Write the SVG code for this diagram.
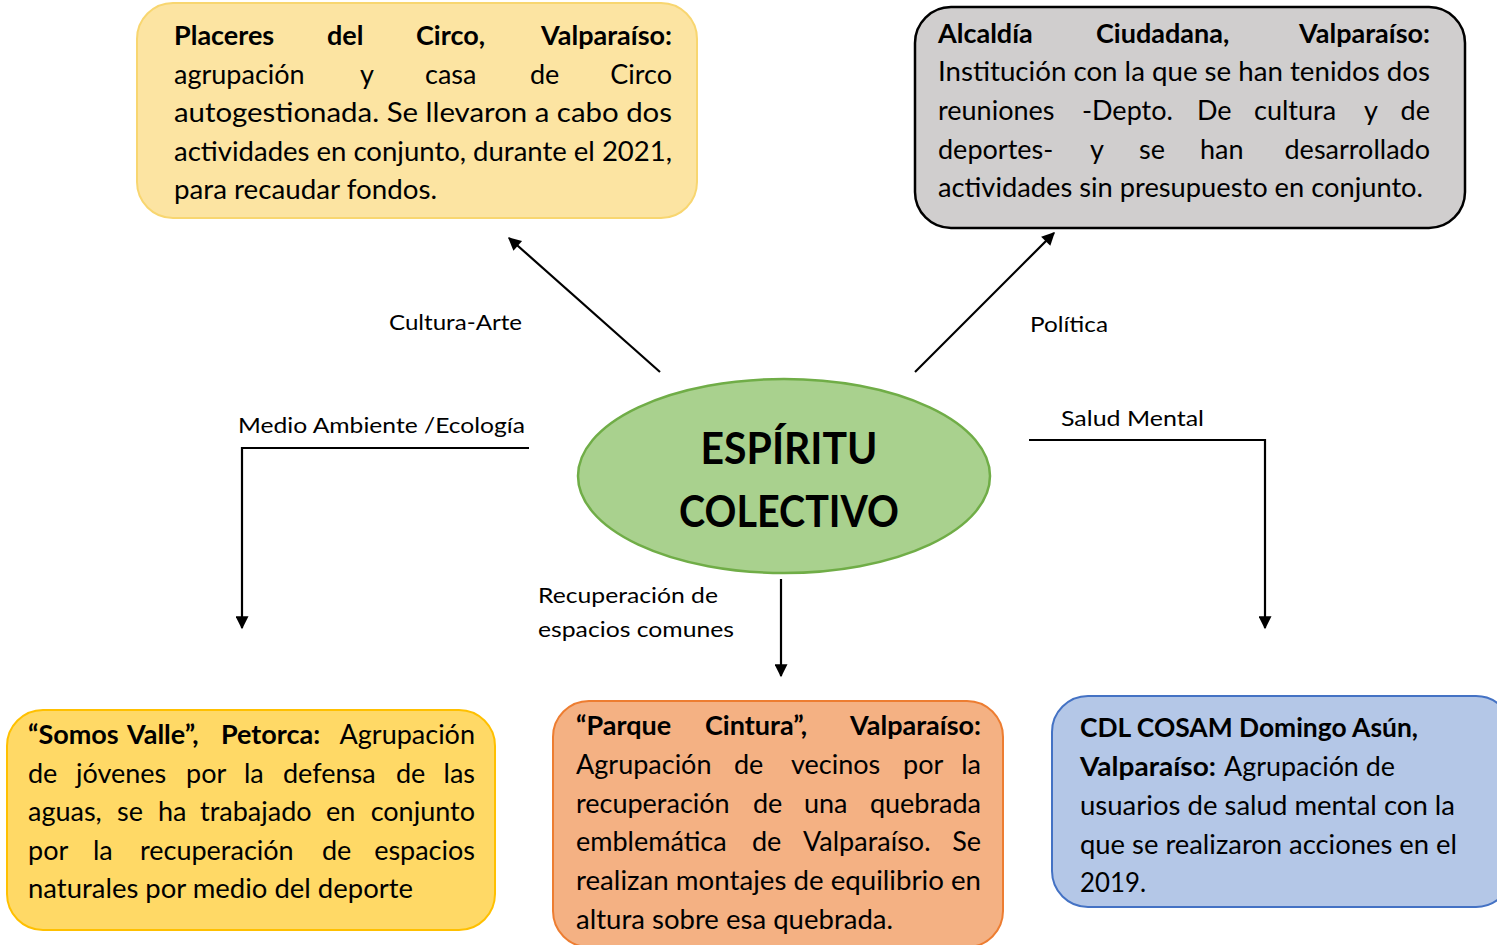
<svg xmlns="http://www.w3.org/2000/svg" width="1497" height="945" viewBox="0 0 1497 945">
<style>
text{font-family:Lato,"Noto Sans",sans-serif;fill:#000}
.b{font-size:27px}
.bb{font-size:27px;font-weight:bold}
.e{text-anchor:end}
.lbl{font-size:22px}
.ttl{font-size:44px;font-weight:bold;text-anchor:middle}
.con{fill:none;stroke:#000;stroke-width:2.2}
</style>
<defs>
<marker id="ah" viewBox="0 0 10 10" refX="9" refY="5" markerWidth="15" markerHeight="13" markerUnits="userSpaceOnUse" orient="auto">
<path d="M0,0 L10,5 L0,10 Z" fill="#000"/>
</marker>
</defs>
<g id="connectors">
<line class="con" x1="660" y1="372" x2="509" y2="238" marker-end="url(#ah)"/>
<line class="con" x1="915" y1="372" x2="1054" y2="233" marker-end="url(#ah)"/>
<polyline class="con" points="529,448 242,448 242,628" marker-end="url(#ah)"/>
<polyline class="con" points="1029,440 1265,440 1265,628" marker-end="url(#ah)"/>
<line class="con" x1="781" y1="579" x2="781" y2="676" marker-end="url(#ah)"/>
<text class="lbl" x="389" y="330" textLength="133" lengthAdjust="spacingAndGlyphs">Cultura-Arte</text>
<text class="lbl" x="1030" y="332" textLength="78" lengthAdjust="spacingAndGlyphs">Política</text>
<text class="lbl" x="238" y="433" textLength="287" lengthAdjust="spacingAndGlyphs">Medio Ambiente /Ecología</text>
<text class="lbl" x="1061" y="426" textLength="143" lengthAdjust="spacingAndGlyphs">Salud Mental</text>
<text class="lbl" x="538" y="603" textLength="180" lengthAdjust="spacingAndGlyphs">Recuperación de</text>
<text class="lbl" x="538" y="637" textLength="196" lengthAdjust="spacingAndGlyphs">espacios comunes</text>
</g>
<g id="center">
<ellipse cx="784" cy="476" rx="206" ry="97" fill="#A9D18E" stroke="#70AD47" stroke-width="2.5"/>
<text class="ttl" x="789" y="464" textLength="177" lengthAdjust="spacingAndGlyphs">ESPÍRITU</text>
<text class="ttl" x="789" y="527" textLength="220" lengthAdjust="spacingAndGlyphs">COLECTIVO</text>
</g>
<g id="placeres">
<rect x="137" y="3" width="560" height="215" rx="36" fill="#FCE4A2" stroke="#F8D670" stroke-width="2"/>
<text class="bb" y="45"><tspan x="174">Placeres</tspan><tspan x="327">del</tspan><tspan x="416">Circo,</tspan></text>
<text class="bb e" x="672" y="45">Valparaíso:</text>
<text class="b" y="84"><tspan x="174">agrupación</tspan><tspan x="360">y</tspan><tspan x="425">casa</tspan><tspan x="530">de</tspan></text>
<text class="b e" x="672" y="84">Circo</text>
<text class="b" x="174" y="122" textLength="498" lengthAdjust="spacingAndGlyphs">autogestionada. Se llevaron a cabo dos</text>
<text class="b" x="174" y="161" textLength="498" lengthAdjust="spacingAndGlyphs">actividades en conjunto, durante el 2021,</text>
<text class="b" x="174" y="199" textLength="263" lengthAdjust="spacingAndGlyphs">para recaudar fondos.</text>
</g>
<g id="alcaldia">
<rect x="915" y="7" width="550" height="221" rx="36" fill="#D0CECE" stroke="#000" stroke-width="2.5"/>
<text class="bb" y="43"><tspan x="938">Alcaldía</tspan><tspan x="1096">Ciudadana,</tspan></text>
<text class="bb e" x="1430" y="43">Valparaíso:</text>
<text class="b" x="938" y="81" textLength="492" lengthAdjust="spacingAndGlyphs">Institución con la que se han tenidos dos</text>
<text class="b" y="120"><tspan x="938">reuniones</tspan><tspan x="1082">-Depto.</tspan><tspan x="1197">De</tspan><tspan x="1254">cultura</tspan><tspan x="1364">y</tspan></text>
<text class="b e" x="1430" y="120">de</text>
<text class="b" y="159"><tspan x="938">deportes-</tspan><tspan x="1090">y</tspan><tspan x="1139">se</tspan><tspan x="1200">han</tspan></text>
<text class="b e" x="1430" y="159">desarrollado</text>
<text class="b" x="938" y="197" textLength="485" lengthAdjust="spacingAndGlyphs">actividades sin presupuesto en conjunto.</text>
</g>
<g id="somos-valle">
<rect x="7" y="710" width="488" height="220" rx="36" fill="#FFD966" stroke="#FFC000" stroke-width="2"/>
<text class="bb" x="28" y="744">“Somos</text>
<text class="bb" x="127" y="744">Valle”,</text>
<text class="bb" x="221" y="744">Petorca:</text>
<text class="b e" x="475" y="744">Agrupación</text>
<text class="b" y="783"><tspan x="28">de</tspan><tspan x="76">jóvenes</tspan><tspan x="186">por</tspan><tspan x="244">la</tspan><tspan x="283">defensa</tspan><tspan x="396">de</tspan></text>
<text class="b e" x="475" y="783">las</text>
<text class="b" y="821"><tspan x="28">aguas,</tspan><tspan x="117">se</tspan><tspan x="158">ha</tspan><tspan x="200">trabajado</tspan><tspan x="326">en</tspan></text>
<text class="b e" x="475" y="821">conjunto</text>
<text class="b" y="860"><tspan x="28">por</tspan><tspan x="93">la</tspan><tspan x="140">recuperación</tspan><tspan x="322">de</tspan></text>
<text class="b e" x="475" y="860">espacios</text>
<text class="b" x="28" y="898" textLength="385" lengthAdjust="spacingAndGlyphs">naturales por medio del deporte</text>
</g>
<g id="parque-cintura">
<rect x="553" y="701" width="450" height="246" rx="36" fill="#F4B183" stroke="#ED7D31" stroke-width="2"/>
<text class="bb" x="576" y="735">“Parque</text>
<text class="bb" x="705" y="735">Cintura”,</text>
<text class="bb e" x="981" y="735">Valparaíso:</text>
<text class="b" y="774"><tspan x="576">Agrupación</tspan><tspan x="734">de</tspan><tspan x="791">vecinos</tspan><tspan x="903">por</tspan></text>
<text class="b e" x="981" y="774">la</text>
<text class="b" y="813"><tspan x="576">recuperación</tspan><tspan x="753">de</tspan><tspan x="804">una</tspan></text>
<text class="b e" x="981" y="813">quebrada</text>
<text class="b" y="851"><tspan x="576">emblemática</tspan><tspan x="752">de</tspan><tspan x="803">Valparaíso.</tspan></text>
<text class="b e" x="981" y="851">Se</text>
<text class="b" x="576" y="890" textLength="405" lengthAdjust="spacingAndGlyphs">realizan montajes de equilibrio en</text>
<text class="b" x="576" y="929" textLength="317" lengthAdjust="spacingAndGlyphs">altura sobre esa quebrada.</text>
</g>
<g id="cosam">
<rect x="1052" y="696" width="460" height="211" rx="36" fill="#B4C7E7" stroke="#4472C4" stroke-width="2"/>
<text class="bb" x="1080" y="737" textLength="338" lengthAdjust="spacingAndGlyphs">CDL COSAM Domingo Asún,</text>
<text class="bb" x="1080" y="776" textLength="136" lengthAdjust="spacingAndGlyphs">Valparaíso:</text>
<text class="b" x="1224" y="776" textLength="171" lengthAdjust="spacingAndGlyphs">Agrupación de</text>
<text class="b" x="1080" y="815" textLength="375" lengthAdjust="spacingAndGlyphs">usuarios de salud mental con la</text>
<text class="b" x="1080" y="854" textLength="377" lengthAdjust="spacingAndGlyphs">que se realizaron acciones en el</text>
<text class="b" x="1080" y="892" textLength="66" lengthAdjust="spacingAndGlyphs">2019.</text>
</g>
</svg>
